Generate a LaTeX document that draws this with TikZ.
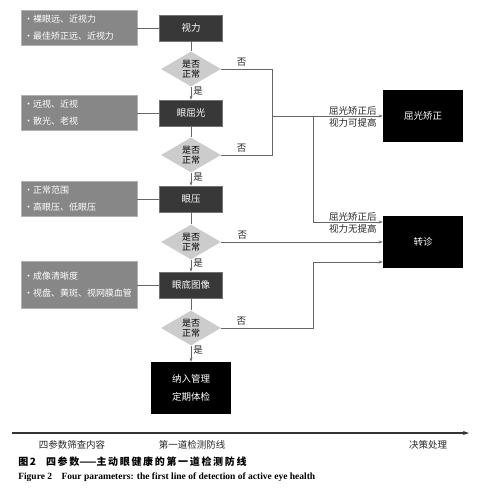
\documentclass[tikz,border=0pt]{standalone}
\usepackage{fontspec}
\setmainfont{Liberation Serif}
\newfontfamily\cjk{Noto Sans CJK SC}
\usetikzlibrary{arrows.meta,shapes.geometric}

\begin{document}
\begin{tikzpicture}[
   x=1pt, y=-1pt,
   >={Stealth[length=4pt,width=3pt]}, line width=0.6pt,
   font=\cjk\fontsize{9.5}{11}\selectfont,
   info/.style={draw=black!30,fill=black!47,text=white,text width=110pt,
                align=left,inner sep=3pt,minimum height=35pt,
                font=\cjk\fontsize{9}{17}\selectfont},
   chk/.style={draw=black!55,fill=black!78,text=white,
               minimum width=63pt,minimum height=26pt},
   judge/.style={diamond,aspect=1.75,fill=black!20,inner sep=0pt,align=center,
                 minimum width=60pt,minimum height=35pt,
                 text=black,font=\cjk\fontsize{9}{10}\selectfont},
   result/.style={fill=black,text=white,minimum width=80pt,minimum height=52pt,
                  align=center,font=\cjk\fontsize{9.5}{18}\selectfont},
   tag/.style={text=black!85,inner sep=2pt},
   note/.style={tag,align=right,anchor=east,font=\cjk\fontsize{9.5}{12.5}\selectfont},
   link/.style={draw=black!60},
   flow/.style={link,->},
   axisflow/.style={-{Stealth[length=6pt,width=4pt]},line width=1.1pt,draw=black!80},
   ]
\useasboundingbox (0,0) rectangle (483,491);
%% Column 1: screening contents
\node[info] (i1) at (79,28)  {·裸眼远、近视力\\·最佳矫正远、近视力};
\node[info] (i2) at (79,113) {·远视、近视\\·散光、老视};
\node[info] (i3) at (79,199) {·正常范围\\·高眼压、低眼压};
\node[info,minimum height=47pt] (i4) at (79,285) {·成像清晰度\\·视盘、黄斑、视网膜血管};
%% Column 2: four parameters
\node[chk] (c1) at (191,28)  {视力};
\node[chk] (c2) at (191,113) {眼屈光};
\node[chk] (c3) at (191,199) {眼压};
\node[chk] (c4) at (191,285) {眼底图像};
\node[judge] (d1) at (191,69)  {是否\\正常};
\node[judge] (d2) at (191,155) {是否\\正常};
\node[judge] (d3) at (191,242) {是否\\正常};
\node[judge] (d4) at (191,328) {是否\\正常};
\node[result] (fin) at (191,388) {纳入管理\\定期体检};
%% Column 3: decisions
\node[result] (r1) at (423,116) {屈光矫正};
\node[result] (r2) at (423,242) {转诊};
\coordinate (j1) at (272,116);
\coordinate (j2) at (313,116);
%% links: contents to parameters
\foreach \n in {1,...,4} \draw[link] (i\n.east) -- (c\n.west);
%% main chain
\foreach \n/\m in {1/2,2/3,3/4} {
   \draw[link] (c\n) -- (d\n);
   \draw[flow] (d\n) -- node[tag,right,pos=.3] {是} (c\m);
}
\draw[link] (c4) -- (d4);
\draw[flow] (d4) -- node[tag,right,pos=.3] {是} (fin);
%% abnormal results
\draw[link] (d1.east) -- node[tag,above,pos=.4] {否} (d1.east -| j1) -- (j1);
\draw[link] (d2.east) -- node[tag,above,pos=.4] {否} (d2.east -| j1) -- (j1);
\draw[flow] (j1) -- (r1.west);
\draw[flow] (j2) |- ([yshift=20pt]r2.west);
\draw[flow] (d3.east) -- node[tag,above,pos=.13] {否} (r2.west);
\draw[flow] (d4.east) -- node[tag,above,pos=.22] {否} (d4.east -| j2) |- ([yshift=-20pt]r2.west);
\node[note] (n1) at (379,117) {屈光矫正后\\视力可提高};
\node[note] (n2) at (379,223) {屈光矫正后\\视力无提高};
%% axis
\coordinate (ax0) at (12,433);
\coordinate (ax1) at (469,433);
\draw[axisflow] (ax0) -- (ax1);
\node[tag] (a1) at (72,445)  {四参数筛查内容};
\node[tag] (a2) at (192,445) {第一道检测防线};
\node[tag] (a3) at (428,445) {决策处理};
%% caption
\node[anchor=west,inner sep=0pt,font=\cjk\bfseries\fontsize{10}{12}\selectfont] (cap1) at (18,462)
   {图\,2\quad 四\,参\,数——主\,动\,眼\,健\,康\,的\,第\,一\,道\,检\,测\,防\,线};
\node[anchor=west,inner sep=0pt,font=\bfseries\fontsize{9.5}{11}\selectfont] (cap2) at (18,477)
   {Figure 2\quad Four parameters: the first line of detection of active eye health};
\end{tikzpicture}
\end{document}
